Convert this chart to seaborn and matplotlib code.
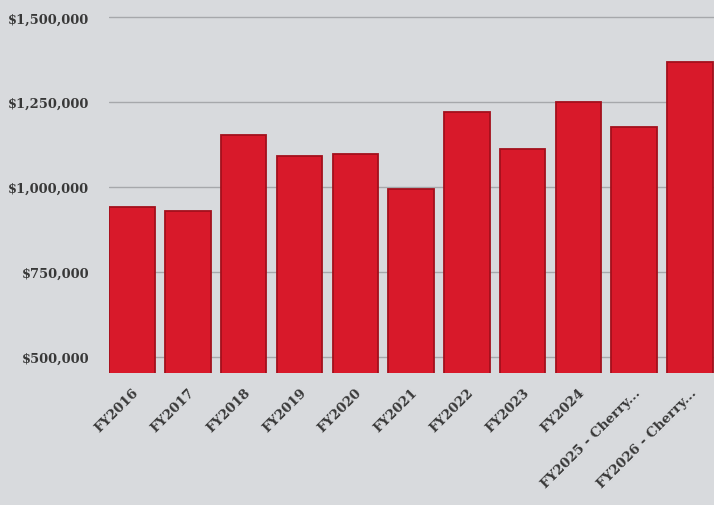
import matplotlib
matplotlib.use('Agg')
import matplotlib.pyplot as plt
import matplotlib.ticker as mticker
import seaborn as sns
import pandas as pd

# valores
anos = ['FY2016', 'FY2017', 'FY2018', 'FY2019', 'FY2020', 'FY2021',
        'FY2022', 'FY2023', 'FY2024', 'FY2025 - Cherry...', 'FY2026 - Cherry...']
valores = [942000, 930000, 1153000, 1091000, 1097000, 995000,
           1220000, 1112000, 1250000, 1178000, 1368000]
ticks_y = [500000, 750000, 1000000, 1250000, 1500000]

df = pd.DataFrame({'ano': anos, 'valor': valores})

sns.set_theme(style='white')
plt.rcParams['font.family'] = ['DejaVu Serif']

fundo = '#d8dadd'
fig = plt.figure(figsize=(7.14, 5.06), dpi=100, facecolor=fundo)
ax = fig.add_axes([0.153, 0.261, 0.847, 0.739])
ax.set_facecolor(fundo)

sns.barplot(data=df, x='ano', y='valor', color='#d8192a', width=0.815,
            saturation=1, edgecolor='#a3101c', linewidth=1.3, ax=ax, zorder=3)

ax.set_ylim(453800, 1553800)
ax.set_xlim(-0.41, 10.43)
ax.set_yticks(ticks_y)
ax.yaxis.set_major_formatter(mticker.FuncFormatter(lambda v, p: f'${v:,.0f}'))
ax.grid(axis='y', color='#a6a8ab', linewidth=1, zorder=0)
for s in ax.spines.values():
    s.set_visible(False)
ax.set_xlabel('')
ax.set_ylabel('')
ax.tick_params(axis='y', length=0, pad=14.5, labelsize=9.4, labelcolor='#383838')
ax.tick_params(axis='x', length=0, pad=9, labelsize=9.6, labelcolor='#383838')
for lbl in ax.get_yticklabels():
    lbl.set_fontweight('bold')
plt.setp(ax.get_xticklabels(), rotation=45, ha='right', rotation_mode='anchor',
         fontweight='bold')

fig.savefig('out.png', dpi=100, facecolor=fundo)
